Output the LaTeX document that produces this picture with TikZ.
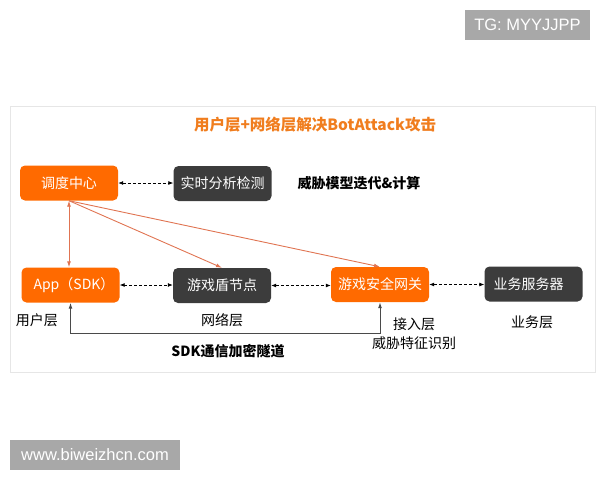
\documentclass[tikz,border=0pt]{standalone}
\usepackage{fontspec}
\setmainfont{Noto Sans CJK SC}
\newfontfamily\wmfont{Liberation Sans}
\usetikzlibrary{arrows.meta}
\definecolor{alorange}{HTML}{FF6A00}
\definecolor{charcoal}{HTML}{3C3C3C}
\definecolor{brick}{HTML}{E07452}
\definecolor{titleor}{HTML}{F07D1E}
\definecolor{framegray}{HTML}{E6E6E6}
\definecolor{tunnelgray}{HTML}{4A4A4A}
\definecolor{wmgray}{HTML}{A8A8A8}

\begin{document}
\begin{tikzpicture}[x=1pt,y=-1pt,font=\fontsize{14}{16}\selectfont,
  box/.style={rounded corners=5pt,minimum width=98pt,minimum height=35pt,
              inner sep=0pt,text=white},
  obox/.style={box,fill=alorange},
  dbox/.style={box,fill=charcoal},
  lbl/.style={text=black},
  bold/.style={font=\fontsize{14}{16}\selectfont\bfseries},
  dlink/.style={densely dashed,line width=0.8pt,{Latex[length=5pt,width=4pt]}-{Latex[length=5pt,width=4pt]}},
  rlink/.style={brick,line width=0.9pt},
  tlink/.style={tunnelgray,line width=1pt},
  wm/.style={fill=wmgray,text=white,inner sep=0pt,font=\wmfont\fontsize{16.5}{18}\selectfont}]
  \useasboundingbox (0,0) rectangle (600,480);
  % frame & title
  \draw[framegray,line width=1pt] (10,106) rectangle (595,372);
  \node[text=titleor,font=\fontsize{15.5}{18}\selectfont\bfseries] (title) at (315,125)
      {用户层+网络层解决BotAttack攻击};
  % boxes
  \node[obox] (sched)  at (69,183)    {调度中心};
  \node[dbox] (rta)    at (222.5,183.5) {实时分析检测};
  \node[obox] (app)    at (70.5,285)  {\hspace*{7pt}App（SDK）};
  \node[dbox] (shield) at (222,285.5) {游戏盾节点};
  \node[obox] (gate)   at (380,284.5) {游戏安全网关};
  \node[dbox] (biz)    at (533.5,284) {业务服务器\hspace*{10pt}};
  % labels
  \node[bold,anchor=west] (model) at (294,183) {威胁模型迭代\&计算};
  \node[lbl] (ulayer) at (37,320)  {用户层};
  \node[lbl] (nlayer) at (222,320) {网络层};
  \node[lbl] (alayer) at (414,324) {接入层};
  \node[lbl] (feat)   at (414,343) {威胁特征识别};
  \node[lbl] (blayer) at (532,322) {业务层};
  \node[bold] (tunnel) at (228,351) {SDK通信加密隧道};
  % dashed links
  \foreach \a/\b in {sched/rta,app/shield,shield/gate,gate/biz}
    \draw[dlink] (\a.east) -- (\a.east -| \b.west);
  % control links
  \draw[rlink,{Latex[length=6pt,width=4pt]}-{Latex[length=6pt,width=4pt]}]
      (sched.south) -- (sched.south |- app.north);
  \draw[rlink,-{Latex[length=6pt,width=4pt]}] (sched.south) -- (shield.north);
  \draw[rlink,-{Latex[length=6pt,width=4pt]}] (sched.south) -- (gate.north);
  % tunnel
  \coordinate (tunl) at (0,333);
  \draw[tlink,{Latex[length=6pt,width=4pt]}-{Latex[length=6pt,width=4pt]}]
      (app.south) -- (app.south |- tunl) -| (gate.south);
  % watermarks
  \node[wm,minimum width=125pt,minimum height=30pt] (tg)   at (527.5,25) {TG: MYYJJPP};
  \node[wm,minimum width=170pt,minimum height=30pt] (site) at (95,455)   {www.biweizhcn.com};
\end{tikzpicture}
\end{document}
